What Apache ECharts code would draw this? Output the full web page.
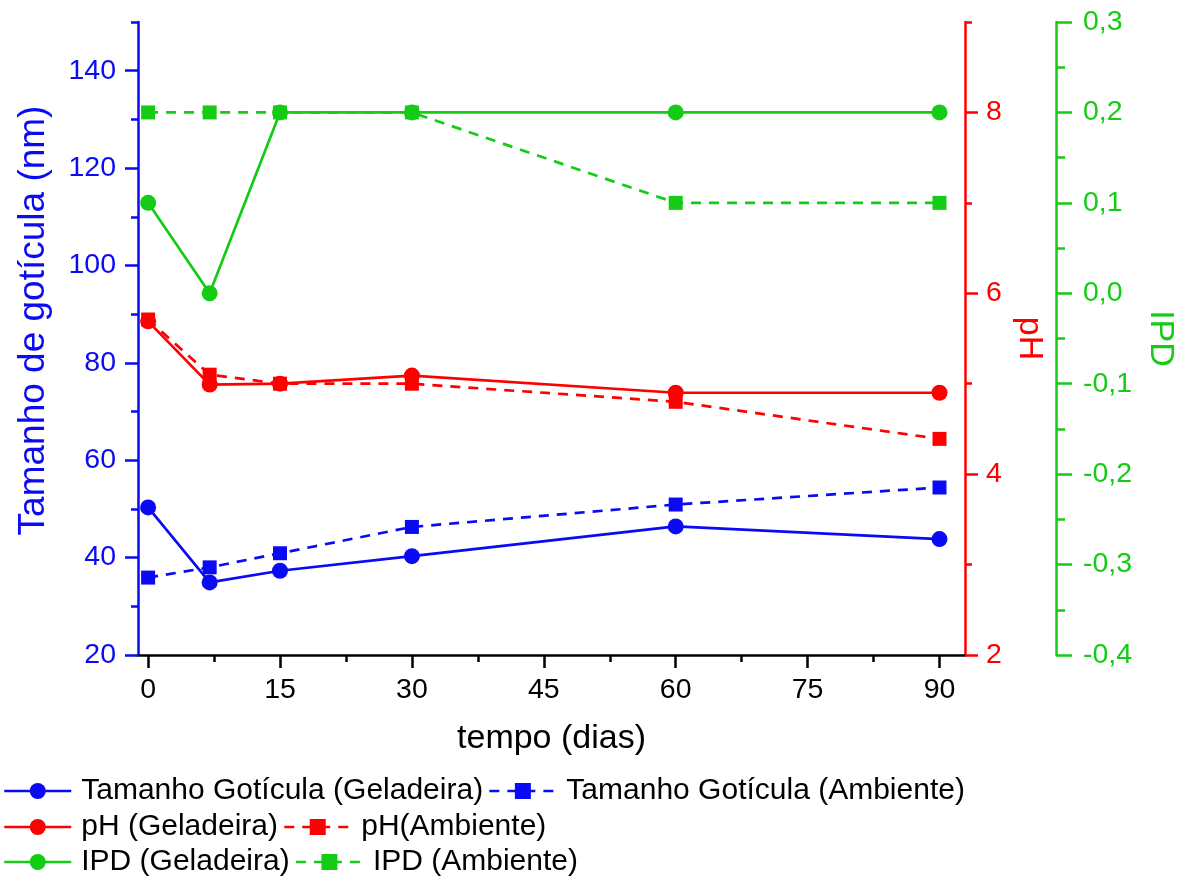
<!DOCTYPE html>
<html>
<head>
<meta charset="utf-8">
<script src="https://cdn.jsdelivr.net/npm/echarts@6/dist/echarts.min.js"></script>
<style>
  html, body { margin: 0; padding: 0; background: #fff; }
  #chart { width: 1187px; height: 879px; }
</style>
</head>
<body>
<div id="chart"></div>
<script>
// Sampling days
const dias = [0, 7, 15, 30, 60, 90];

// Droplet size (nm)
const tamanhoGeladeira = [50.3, 34.9, 37.3, 40.3, 46.4, 43.8];
const tamanhoAmbiente = [35.9, 38.0, 40.9, 46.3, 50.9, 54.4];

// pH
const phGeladeira = [5.69, 4.99, 5.0, 5.09, 4.9, 4.9];
const phAmbiente = [5.71, 5.1, 5.0, 5.0, 4.8, 4.39];

// Polydispersity index
const ipdGeladeira = [0.1, 0.0, 0.2, 0.2, 0.2, 0.2];
const ipdAmbiente = [0.2, 0.2, 0.2, 0.2, 0.1, 0.1];

// Tick values
const xTicks = [0, 15, 30, 45, 60, 75, 90];
const xMinorTicks = [7.5, 22.5, 37.5, 52.5, 67.5, 82.5];
const tamTicks = [20, 40, 60, 80, 100, 120, 140];
const tamMinorTicks = [30, 50, 70, 90, 110, 130, 150];
const phTicks = [2, 4, 6, 8];
const phMinorTicks = [3, 5, 7, 9];
const ipdTicks = [-0.4, -0.3, -0.2, -0.1, 0, 0.1, 0.2, 0.3];
const ipdMinorTicks = [-0.35, -0.25, -0.15, -0.05, 0.05, 0.15, 0.25];

const BLUE = '#0a0af5';
const RED = '#ff0000';
const GREEN = '#14cc14';
const FONT = 'Liberation Sans, Arial, sans-serif';
const TICK_FONT = 28.5;
const LINE_W = 2.7;

const pairs = ys => dias.map((d, i) => [d, ys[i]]);

function yAxisPair(opts) {
  const base = {
    type: 'value',
    min: opts.min,
    max: opts.max,
    position: opts.position,
    offset: opts.offset || 0,
    splitLine: { show: false },
  };
  return [
    Object.assign({}, base, {
      axisLine: { show: true, onZero: false, lineStyle: { color: opts.color, width: 2.5 } },
      axisTick: { show: true, length: opts.tickLen, customValues: opts.ticks,
                  lineStyle: { color: opts.color, width: 2.5 } },
      axisLabel: { show: true, customValues: opts.ticks, margin: opts.labelMargin,
                   color: opts.color, fontSize: TICK_FONT, fontFamily: FONT,
                   formatter: opts.formatter },
      name: opts.name,
      nameLocation: 'middle',
      nameGap: opts.nameGap,
      nameRotate: opts.nameRotate,
      nameTextStyle: Object.assign({ color: opts.color, fontSize: opts.nameSize || 34, fontFamily: FONT },
                                   opts.nameStyle || {}),
    }),
    Object.assign({}, base, {
      axisLine: { show: false, onZero: false },
      axisTick: { show: true, length: opts.minorLen, customValues: opts.minor,
                  lineStyle: { color: opts.color, width: 2.5 } },
      axisLabel: { show: false },
    }),
  ];
}

const commaFmt = v => Number(v).toFixed(1).replace('.', ',');

const yAxes = [].concat(
  yAxisPair({ min: 20, max: 150, position: 'left', color: BLUE, ticks: tamTicks, minor: tamMinorTicks,
              tickLen: 13, minorLen: 7, labelMargin: 22, name: 'Tamanho de gotícula (nm)',
              nameGap: 86, nameRotate: 90, nameSize: 37, nameStyle: { padding: [0, 0, 0, 36] } }),
  yAxisPair({ min: 2, max: 9, position: 'right', color: RED, ticks: phTicks, minor: phMinorTicks,
              tickLen: 13, minorLen: 7, labelMargin: 21, name: 'pH',
              nameGap: 40, nameRotate: -90 }),
  yAxisPair({ min: -0.4, max: 0.3, position: 'right', offset: 91, color: GREEN, ticks: ipdTicks,
              minor: ipdMinorTicks, tickLen: 16, minorLen: 9, labelMargin: 27, name: 'IPD',
              nameGap: 84, nameRotate: -90, formatter: commaFmt })
);

const X_MIN = -1.15;
const X_MAX = 92.9;

const xAxes = [
  {
    type: 'value', min: X_MIN, max: X_MAX, position: 'bottom',
    axisLine: { onZero: false, lineStyle: { color: '#000', width: 2.5 } },
    axisTick: { length: 13, customValues: xTicks, lineStyle: { color: '#000', width: 2.5 } },
    axisLabel: { customValues: xTicks, color: '#000', fontSize: TICK_FONT, fontFamily: FONT, margin: 21 },
    splitLine: { show: false },
    name: 'tempo (dias)', nameLocation: 'middle', nameGap: 67,
    nameTextStyle: { color: '#000', fontSize: 34, fontFamily: FONT },
  },
  {
    type: 'value', min: X_MIN, max: X_MAX, position: 'bottom',
    axisLine: { show: false, onZero: false },
    axisTick: { length: 7, customValues: xMinorTicks, lineStyle: { color: '#000', width: 2.5 } },
    axisLabel: { show: false },
    splitLine: { show: false },
  },
];

function lineSeries(name, ys, yIdx, color, dashed) {
  return {
    name: name,
    type: 'line',
    xAxisIndex: 0,
    yAxisIndex: yIdx,
    data: pairs(ys),
    symbol: dashed ? 'rect' : 'circle',
    symbolSize: dashed ? 14 : 16,
    itemStyle: { color: color },
    lineStyle: { color: color, width: LINE_W, type: dashed ? [10, 8] : 'solid' },
    emphasis: { disabled: true },
    animation: false,
    z: dashed ? 3 : 4,
  };
}

const series = [
  lineSeries('Tamanho Gotícula (Geladeira)', tamanhoGeladeira, 0, BLUE, false),
  lineSeries('Tamanho Gotícula (Ambiente)', tamanhoAmbiente, 0, BLUE, true),
  lineSeries('pH (Geladeira)', phGeladeira, 2, RED, false),
  lineSeries('pH(Ambiente)', phAmbiente, 2, RED, true),
  lineSeries('IPD (Geladeira)', ipdGeladeira, 4, GREEN, false),
  lineSeries('IPD (Ambiente)', ipdAmbiente, 4, GREEN, true),
];

function legendRow(names, top) {
  return {
    data: names,
    top: top,
    left: 3,
    orient: 'horizontal',
    padding: 0,
    itemGap: 5,
    itemWidth: 67,
    itemHeight: 20,
    selectedMode: false,
    lineStyle: { width: 2.5 },
    textStyle: { color: '#000', fontSize: 30, fontFamily: FONT, padding: [0, 0, 0, 5] },
  };
}

const chart = echarts.init(document.getElementById('chart'), null, { renderer: 'canvas' });
chart.setOption({
  backgroundColor: '#fff',
  animation: false,
  grid: { left: 138, top: 22, width: 827, height: 633, containLabel: false },
  xAxis: xAxes,
  yAxis: yAxes,
  legend: [
    legendRow(['Tamanho Gotícula (Geladeira)', 'Tamanho Gotícula (Ambiente)'], 776),
    legendRow(['pH (Geladeira)', 'pH(Ambiente)'], 812),
    legendRow(['IPD (Geladeira)', 'IPD (Ambiente)'], 847),
  ],
  series: series,
});
</script>
</body>
</html>
